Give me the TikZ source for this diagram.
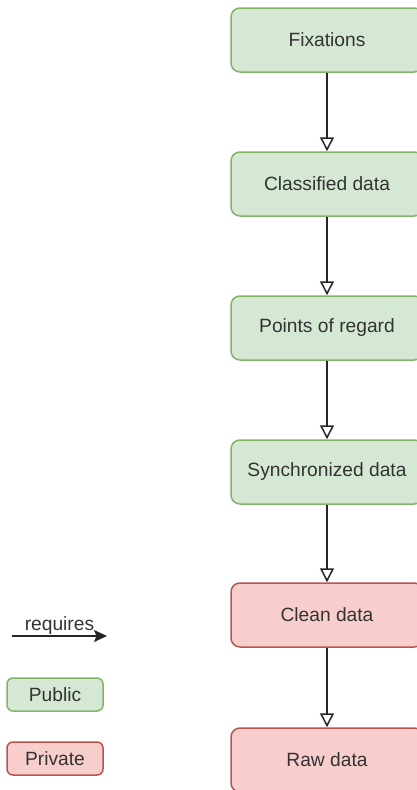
\documentclass[tikz,border=0pt]{standalone}
\usepackage{fontspec}
\setmainfont{Liberation Sans}
\usetikzlibrary{arrows.meta}
\definecolor{pubfill}{HTML}{D5E8D4}
\definecolor{publine}{HTML}{82B366}
\definecolor{privfill}{HTML}{F8CECC}
\definecolor{privline}{HTML}{B85450}
\definecolor{txt}{HTML}{333333}
\tikzset{
  lbl/.style={font=\fontsize{19.2pt}{22pt}\selectfont, text=txt},
  box/.style={rectangle, rounded corners=9pt, minimum width=192pt, minimum height=64pt, line width=1.5pt, lbl, inner sep=0pt},
  pub/.style={fill=pubfill, draw=publine},
  priv/.style={fill=privfill, draw=privline},
  legbox/.style={rectangle, rounded corners=6pt, minimum width=96pt, minimum height=33pt, line width=1.5pt, lbl, inner sep=0pt},
  req/.style={draw=black!85, line width=1.5pt, -{Triangle[open, length=14pt, width=14pt, fill=white]}},
}
\begin{document}
\begin{tikzpicture}[x=1pt, y=-1pt]
\useasboundingbox (0,0) rectangle (416,790);
\node[box, pub] (fix) at (327,40) {Fixations};
\node[box, pub] (cls) at (327,184) {Classified data};
\node[box, pub] (por) at (327,328) {Points of regard};
\node[box, pub] (syn) at (327,472) {Synchronized data};
\node[box, priv] (cln) at (327,615) {Clean data};
\node[box, priv] (raw) at (327,760) {Raw data};
\draw[req] (fix) -- (cls);
\draw[req] (cls) -- (por);
\draw[req] (por) -- (syn);
\draw[req] (syn) -- (cln);
\draw[req] (cln) -- (raw);
\coordinate (ls) at (12,636);
\coordinate (le) at (107,636);
\draw[line width=1.5pt, draw=black!85, -{Stealth[length=13pt, width=12pt, inset=2.5pt]}] (ls) -- node[above=0pt, lbl, inner sep=1pt] (reqlabel) {requires} (le);
\node[legbox, pub] (lpub) at (55,694.5) {Public};
\node[legbox, priv] (lpriv) at (55,758.5) {Private};
\end{tikzpicture}
\end{document}
